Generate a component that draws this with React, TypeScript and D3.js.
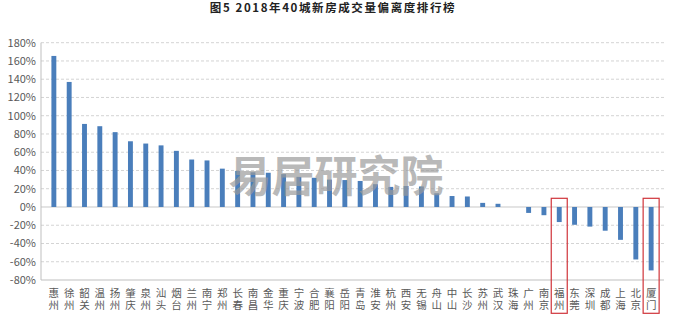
import React from "react";
import * as d3 from "d3";

const cities = ["惠州","徐州","韶关","温州","扬州","肇庆","泉州","汕头","烟台","兰州","南宁","郑州","长春","南昌","金华","重庆","宁波","合肥","襄阳","岳阳","青岛","淮安","杭州","西安","无锡","舟山","中山","长沙","苏州","武汉","珠海","广州","南京","福州","东莞","深圳","成都","上海","北京","厦门"];
const values = [165.5,137,91,88.5,82,72,69.5,67.5,61.5,52,51,42,39.5,38,37.5,36,33,32,30,29.5,28.5,25,22,23,22.5,15,12,11.5,4.5,3.5,0,-6.5,-9,-16.5,-19.5,-21.5,-26,-36,-57.5,-69.5];
const yTicks = [180,160,140,120,100,80,60,40,20,0,-20,-40,-60,-80];
const highlighted = ["福州","厦门"];
const title = "图5  2018年40城新房成交量偏离度排行榜";
const watermark = "易居研究院";

export default function App() {
  const W = 679, H = 317;
  const left = 41, right = 664, top = 42.7, bottom = 280;
  const x = d3.scaleBand<string>().domain(cities).range([left, right]).padding(0.68);
  const y = d3.scaleLinear().domain([-80, 180]).range([bottom, top]);
  const font = "'Noto Sans CJK SC', 'Noto Sans', sans-serif";
  return (
    <svg width={W} height={H} style={{ position: "absolute", left: 0, top: 0, background: "#fff" }}>
      <text x={333} y={12} textAnchor="middle" fontFamily={font} fontWeight="bold" fontSize={11.5} letterSpacing={1.6} fill="#222">{title}</text>
      {yTicks.map((t) => (
        <g key={t}>
          {t !== -80 && t !== 0 && (
            <line x1={left} x2={right} y1={y(t)} y2={y(t)} stroke="#d4d4d4" strokeDasharray="3,2" strokeWidth={1} />
          )}
          <text x={36} y={y(t) + 4} textAnchor="end" fontFamily={font} fontSize={11} fill="#595959">{t + "%"}</text>
        </g>
      ))}
      <line x1={left} x2={right} y1={y(0)} y2={y(0)} stroke="#c8c8c8" strokeWidth={1} />
      <line x1={left} x2={right} y1={bottom} y2={bottom} stroke="#bfbfbf" strokeWidth={1} />
      <line x1={left} x2={left} y1={top} y2={bottom} stroke="#bfbfbf" strokeWidth={1} />
      {cities.map((c, i) => {
        const v = values[i];
        const y0 = y(Math.max(0, v)), y1 = y(Math.min(0, v));
        return <rect key={c} x={x(c)} y={y0} width={x.bandwidth()} height={Math.max(0, y1 - y0)} fill="#4a7ebb" />;
      })}
      {cities.map((c) => {
        const cx = (x(c) as number) + x.bandwidth() / 2;
        return (
          <text key={c} x={cx} y={288} fontFamily={font} fontSize={10.5} fill="#595959" letterSpacing={1}
            style={{ writingMode: "vertical-rl", textOrientation: "upright" } as any}>{c}</text>
        );
      })}
      {highlighted.map((c) => {
        const cx = (x(c) as number) + x.bandwidth() / 2;
        return <rect key={c} x={cx - 8} y={198.3} width={16} height={115} fill="none" stroke="#d0343a" strokeWidth={1.2} />;
      })}
      <text x={336} y={192} textAnchor="middle" fontFamily={font} fontWeight="bold" fontSize={43} fill="#9a9a9a" fillOpacity={0.7}>{watermark}</text>
    </svg>
  );
}
